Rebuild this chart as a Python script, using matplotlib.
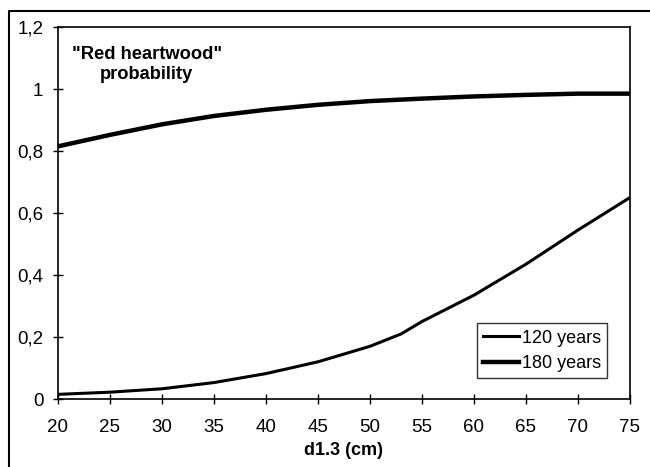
import matplotlib
matplotlib.use("Agg")
import matplotlib.pyplot as plt
from matplotlib.lines import Line2D

plt.rcParams['font.family'] = ['Liberation Sans', 'DejaVu Sans']

x120 = [20, 25, 30, 35, 40, 45, 50, 53, 55, 60, 65, 70, 75]
y120 = [0.015, 0.022, 0.033, 0.053, 0.082, 0.12, 0.17, 0.21, 0.25, 0.335, 0.435, 0.545, 0.65]
x180 = [20, 25, 30, 35, 40, 45, 50, 55, 60, 65, 70, 75]
y180 = [0.815, 0.852, 0.886, 0.913, 0.933, 0.949, 0.961, 0.969, 0.976, 0.981, 0.985, 0.985]
xticks = [20, 25, 30, 35, 40, 45, 50, 55, 60, 65, 70, 75]
yticks = [0, 0.2, 0.4, 0.6, 0.8, 1.0, 1.2]
ylabels = ["0", "0,2", "0,4", "0,6", "0,8", "1", "1,2"]

W, H = 650, 467
fig = plt.figure(figsize=(6.5, 4.67), dpi=100)
ax = fig.add_axes([58 / W, 1 - 399 / H, (630 - 58) / W, (399 - 27) / H])

ax.plot(x120, y120, color='black', lw=2.2, solid_capstyle='butt')
ax.plot(x180, y180, color='black', lw=3.2, solid_capstyle='butt')
ax.set_xlim(20, 75)
ax.set_ylim(0, 1.2)
ax.set_xticks(xticks)
ax.set_yticks(yticks)
ax.set_yticklabels(ylabels)
ax.tick_params(direction='inout', length=7, width=1, labelsize=13.5, colors='black')
ax.tick_params(axis='x', pad=11)
ax.tick_params(axis='y', pad=7)
for s in ax.spines.values():
    s.set_linewidth(1.2)
ax.set_xlabel("d1.3 (cm)", fontsize=13, fontweight='bold', labelpad=4)

ax.text(0.024, 0.948, '"Red heartwood"\nprobability', transform=ax.transAxes,
        fontsize=13.2, fontweight='bold', ha='left', va='top', multialignment='center',
        linespacing=1.2)

handles = [Line2D([], [], color='black', lw=2.2), Line2D([], [], color='black', lw=3.2)]
leg = ax.legend(handles, ["120 years", "180 years"], loc='lower right',
                bbox_to_anchor=(0.96, 0.056), fontsize=13, frameon=True, fancybox=False,
                edgecolor='black', handlelength=2.0, handletextpad=0.15, borderpad=0.35,
                labelspacing=0.45, borderaxespad=0.0)
leg.get_frame().set_linewidth(1.0)

fig.add_artist(Line2D([8.5 / W, 8.5 / W, 1.0], [0.0, 1 - 10.5 / H, 1 - 10.5 / H],
                      transform=fig.transFigure, color='black', lw=1.5))

fig.savefig("out.png", dpi=100)
